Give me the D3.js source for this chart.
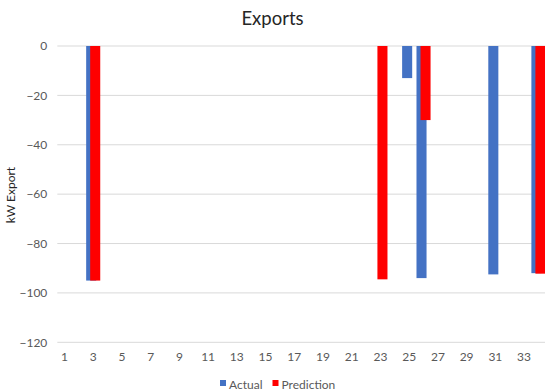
<!DOCTYPE html>
<html>
<head>
<meta charset="utf-8">
<script src="https://cdn.jsdelivr.net/npm/d3@7/dist/d3.min.js"></script>
<style>
html,body{margin:0;padding:0;background:#fff;overflow:hidden;}
svg{display:block;}
text{font-family:Lato,"Open Sans","Liberation Sans",sans-serif;}
</style>
</head>
<body>
<svg id="chart" width="545" height="392"></svg>
<script>
const categories = [1,2,3,4,5,6,7,8,9,10,11,12,13,14,15,16,17,18,19,20,21,22,23,24,25,26,27,28,29,30,31,32,33,34];
const actual = [null,null,-95,null,null,null,null,null,null,null,null,null,null,null,null,null,null,null,null,null,null,null,null,null,-13,-94,null,null,null,null,-92.5,null,null,-92];
const prediction = [null,null,-95,null,null,null,null,null,null,null,null,null,null,null,null,null,null,null,null,null,null,null,-94.5,null,null,-30,null,null,null,null,null,null,null,-92.2];
const yTicks = [0,-20,-40,-60,-80,-100,-120];
const seriesNames = ["Actual","Prediction"];
const colors = ["#4472C4","#FF0000"];

const svg = d3.select("#chart");
const plotLeft = 57.3, plotRight = 545.6, plotTop = 46, plotBottom = 342.3;

const x = d3.scaleBand().domain(categories).range([plotLeft, plotRight]).padding(0);
const y = d3.scaleLinear().domain([-120, 0]).range([plotBottom, plotTop]);

// gridlines
svg.append("g").selectAll("line").data(yTicks).join("line")
  .attr("x1", plotLeft).attr("x2", plotRight)
  .attr("y1", d => y(d)).attr("y2", d => y(d))
  .attr("stroke", "#d9d9d9").attr("stroke-width", 1);

// y axis labels
const yAxis = d3.axisLeft(y).tickValues(yTicks).tickSize(0).tickPadding(0);
const yg = svg.append("g").attr("transform", `translate(${plotLeft-10},0)`).call(yAxis);
yg.select(".domain").remove();
yg.selectAll("text").attr("fill", "#595959").style("font-size", "12px")
  .style("font-family", 'Lato,"Open Sans","Liberation Sans",sans-serif');

// x axis labels (every other)
const xAxis = d3.axisBottom(x).tickValues(categories.filter(c => c % 2 === 1)).tickSize(0).tickPadding(0);
const xg = svg.append("g").attr("transform", `translate(0,${plotBottom+10})`).call(xAxis);
xg.select(".domain").remove();
xg.selectAll("text").attr("fill", "#595959").style("font-size", "12px")
  .style("font-family", 'Lato,"Open Sans","Liberation Sans",sans-serif');

// bars
const bw = x.bandwidth();
const barW = bw * 0.7;
const offsets = [-bw * 0.14, bw * 0.14];
[actual, prediction].forEach((vals, si) => {
  svg.append("g").selectAll("rect")
    .data(categories.map((c, i) => ({c, v: vals[i]})).filter(d => d.v !== null))
    .join("rect")
    .attr("x", d => x(d.c) + bw / 2 + offsets[si] - barW / 2)
    .attr("width", barW)
    .attr("y", y(0))
    .attr("height", d => y(d.v) - y(0))
    .attr("fill", colors[si]);
});

// title
svg.append("text").attr("x", 272.5).attr("y", 25).attr("text-anchor", "middle")
  .attr("fill", "#262626").style("font-size", "18.5px").text("Exports");

// y axis title
svg.append("text").attr("transform", "translate(15,195) rotate(-90)")
  .attr("text-anchor", "middle").attr("fill", "#262626").style("font-size", "12px").text("kW Export");

// legend
const legend = svg.append("g");
const legendItems = [{name: seriesNames[0], color: colors[0], x: 220}, {name: seriesNames[1], color: colors[1], x: 272.5}];
legendItems.forEach(it => {
  legend.append("rect").attr("x", it.x).attr("y", 380).attr("width", 6).attr("height", 6).attr("fill", it.color);
  legend.append("text").attr("x", it.x + 9).attr("y", 389).attr("fill", "#595959").style("font-size", "12px").text(it.name);
});
</script>
</body>
</html>
